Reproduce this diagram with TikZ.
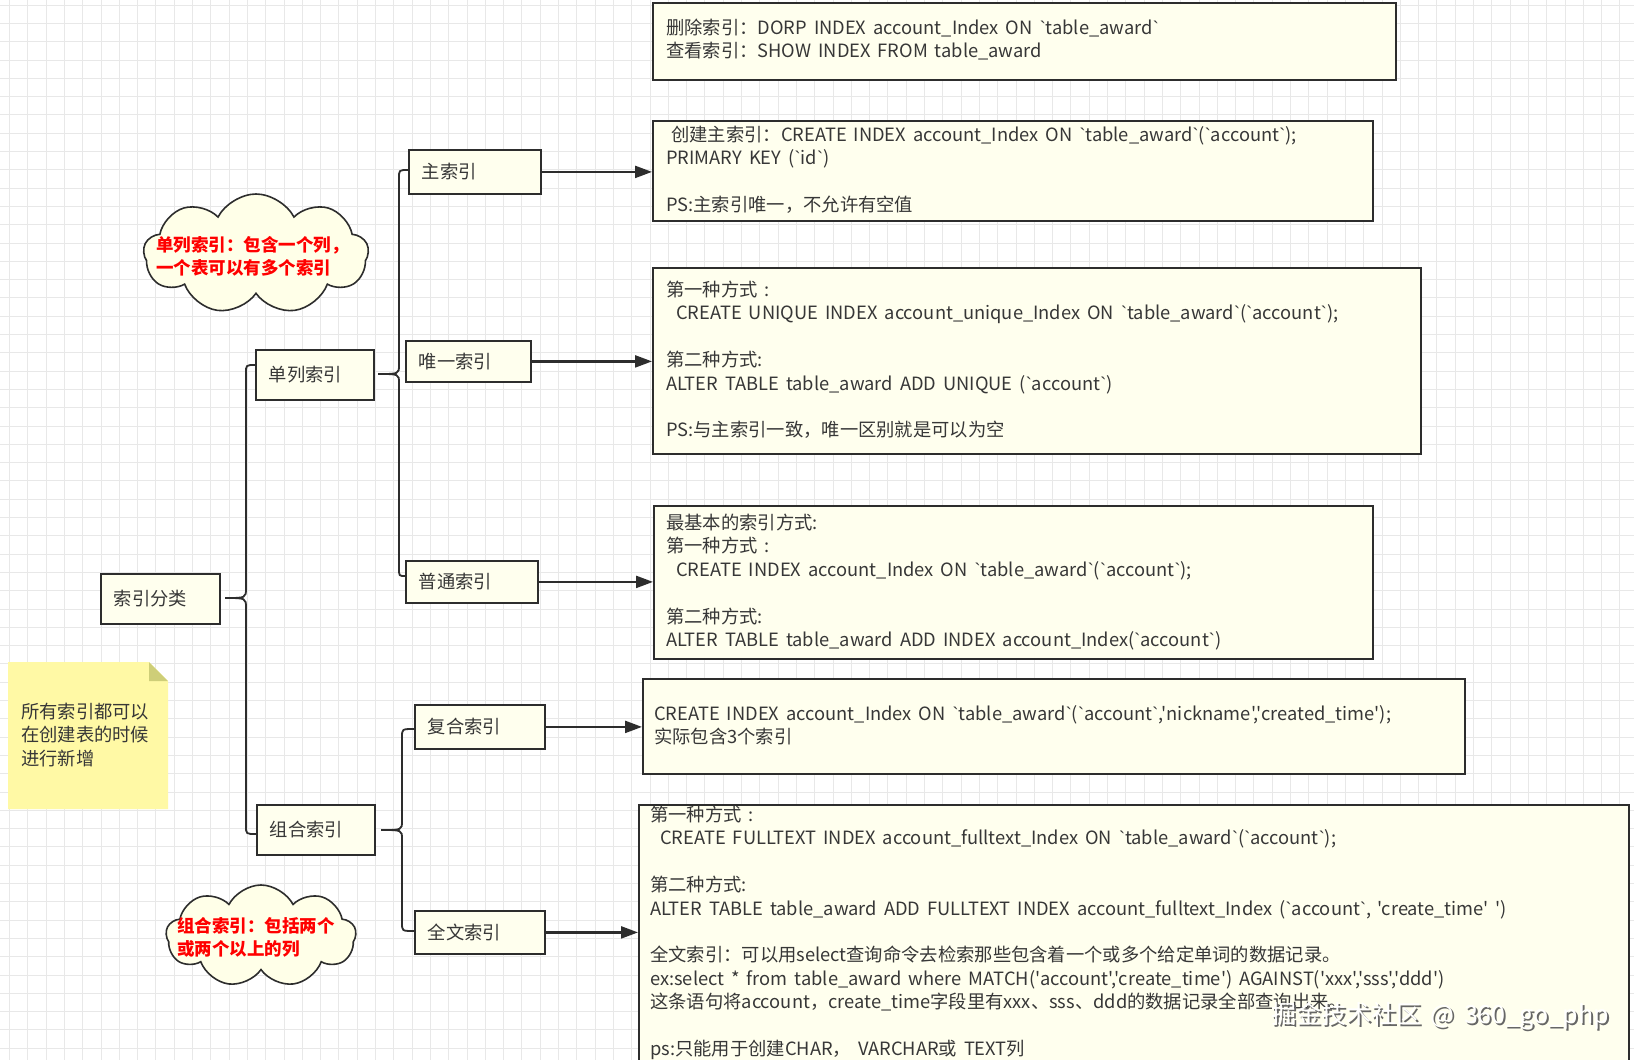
\documentclass[tikz,border=0pt]{standalone}
\usepackage{fontspec}
\newfontfamily\cjk{Noto Sans CJK SC}[WordSpace=1.7]
\newfontfamily\latf{Liberation Sans}
\usetikzlibrary{arrows.meta,shapes.symbols,calc}
\definecolor{boxfill}{RGB}{255,255,238}
\definecolor{bordc}{RGB}{45,45,45}
\definecolor{txtc}{RGB}{55,55,55}
\definecolor{gridc}{RGB}{232,232,232}
\definecolor{stickyc}{RGB}{255,249,165}
\definecolor{foldc}{RGB}{206,206,120}
\definecolor{cloudfill}{RGB}{255,255,232}
\newcommand{\bq}{{\latf\symbol{"60}}}
\newcommand{\sq}{\symbol{"27}}
\begin{document}
\begin{tikzpicture}[x=1pt,y=-1pt,
  base/.style={font=\cjk\fontsize{18.3}{23.4}\selectfont, text=txtc},
  sbox/.style={base, draw=bordc, fill=boxfill, line width=1.8pt, inner xsep=13pt, inner ysep=0pt, text width=#1, align=left, anchor=north west},
  bigbox/.style={draw=bordc, fill=boxfill, line width=1.8pt, inner sep=0pt, anchor=north west},
  txt/.style={base, align=left, inner sep=0pt, anchor=north west},
  brc/.style={draw=bordc, line width=1.8pt},
  arr/.style={draw=bordc, line width=2.3pt, -{Triangle[length=17pt,width=12pt]}},
  cloudbox/.style={cloud, cloud puffs=9, cloud puff arc=125, cloud ignores aspect, draw=bordc, fill=cloudfill, line width=1.6pt, inner sep=0pt},
  redtxt/.style={font=\cjk\bfseries\fontsize{17.5}{23}\selectfont, text=red, align=left, inner sep=0pt, anchor=north west}
]
\useasboundingbox (0,0) rectangle (1634,1060);
\clip (0,0) rectangle (1634,1060);
\fill[white] (0,0) rectangle (1634,1060);
% grid
\foreach \i in {0,...,89} { \draw[gridc, line width=0.8pt] ({9.4+18.3*\i},0) -- ({9.4+18.3*\i},1060); }
\foreach \i in {0,...,58} { \draw[gridc, line width=0.8pt] (0,{5+18.3*\i}) -- (1634,{5+18.3*\i}); }

% big boxes
\node[bigbox, minimum width=743pt, minimum height=77pt] (b0) at (652,2) {};
\node[bigbox, minimum width=720pt, minimum height=100pt] (b1) at (652,120) {};
\node[bigbox, minimum width=768pt, minimum height=186pt] (b2) at (652,267) {};
\node[bigbox, minimum width=719pt, minimum height=153pt] (b3) at (653,505) {};
\node[bigbox, minimum width=822pt, minimum height=95pt] (b4) at (642,678) {};
\node[bigbox, minimum width=990pt, minimum height=280pt] (b5) at (638,804) {};

\node[txt] (t0) at (666,18) {\strut 删除索引：DORP INDEX account\_Index ON \bq table\_award\bq\\
\strut 查看索引：SHOW INDEX FROM table\_award};
\node[txt] (t1) at (666,125) {\strut\hspace*{5pt}创建主索引：CREATE INDEX account\_Index ON \bq table\_award\bq(\bq account\bq);\\
\strut PRIMARY KEY (\bq id\bq)\\
\strut\\
\strut PS:主索引唯一，不允许有空值};
\node[txt] (t2) at (666,280) {\strut 第一种方式 :\\
\strut\hspace*{10pt}CREATE UNIQUE INDEX account\_unique\_Index ON \bq table\_award\bq(\bq account\bq);\\
\strut\\
\strut 第二种方式:\\
\strut ALTER TABLE table\_award ADD UNIQUE (\bq account\bq)\\
\strut\\
\strut PS:与主索引一致，唯一区别就是可以为空};
\node[txt] (t3) at (666,513) {\strut 最基本的索引方式:\\
\strut 第一种方式 :\\
\strut\hspace*{10pt}CREATE INDEX account\_Index ON \bq table\_award\bq(\bq account\bq);\\
\strut\\
\strut 第二种方式:\\
\strut ALTER TABLE table\_award ADD INDEX account\_Index(\bq account\bq)};
\node[txt] (t4) at (654,704) {\strut CREATE INDEX account\_Index ON \bq table\_award\bq(\bq account\bq,\sq nickname\sq,\sq created\_time\sq);\\
\strut 实际包含3个索引};
\node[txt] (t5) at (650,805) {\strut 第一种方式 :\\
\strut\hspace*{10pt}CREATE FULLTEXT INDEX account\_fulltext\_Index ON \bq table\_award\bq(\bq account\bq);\\
\strut\\
\strut 第二种方式:\\
\strut ALTER TABLE table\_award ADD FULLTEXT INDEX account\_fulltext\_Index (\bq account\bq,\hspace*{6pt}\sq create\_time\sq\hspace*{6pt}\sq)\\
\strut\\
\strut 全文索引：可以用select查询命令去检索那些包含着一个或多个给定单词的数据记录。\\
\strut ex:select * from table\_award where MATCH(\sq account\sq,\sq create\_time\sq) AGAINST(\sq xxx\sq,\sq sss\sq,\sq ddd\sq)\\
\strut 这条语句将account，create\_time字段里有xxx、sss、ddd的数据记录全部查询出来。\\
\strut\\
\strut ps:只能用于创建CHAR， VARCHAR或 TEXT列};

% small boxes
\node[sbox=93pt, minimum height=50pt] (idx) at (100,573) {索引分类};
\node[sbox=92pt, minimum height=50pt] (dan) at (255,349) {单列索引};
\node[sbox=92pt, minimum height=50pt] (zuhe) at (256,804) {组合索引};
\node[sbox=106pt, minimum height=44pt] (zhu) at (408,149) {主索引};
\node[sbox=99pt, minimum height=41pt] (wei) at (405,340) {唯一索引};
\node[sbox=106pt, minimum height=42pt] (pt) at (405,560) {普通索引};
\node[sbox=104pt, minimum height=44pt] (fh) at (414,704) {复合索引};
\node[sbox=104pt, minimum height=43pt] (qw) at (414,910) {全文索引};

% braces
\draw[brc] (255,365) .. controls (246,365) .. (246,373) -- (246,588) .. controls (246,598) .. (225,598) .. controls (246,598) .. (246,608) -- (246,826) .. controls (246,834) .. (256,834);
\draw[brc] (408,170) .. controls (399,170) .. (399,178) -- (399,365) .. controls (399,374) .. (378,374) .. controls (399,374) .. (399,383) -- (399,568) .. controls (399,576) .. (405,576);
\draw[brc] (414,729) .. controls (402,729) .. (402,737) -- (402,821) .. controls (402,830) .. (381,830) .. controls (402,830) .. (402,839) -- (402,923) .. controls (402,931) .. (414,931);

% arrows
\draw[arr] (zhu.east) -- (zhu.east -| b1.west);
\draw[arr] (wei.east) -- (wei.east -| b2.west);
\draw[arr] (pt.east) -- (pt.east -| b3.west);
\draw[arr] (fh.east) -- (fh.east -| b4.west);
\draw[arr] (qw.east) -- (qw.east -| b5.west);

% clouds
\node[cloudbox, minimum width=225pt, minimum height=120pt] (cl1) at (256,254) {};
\node[redtxt] (cl1t) at (156,236) {单列索引：包含一个列，\\一个表可以有多个索引};
\node[cloudbox, minimum width=190pt, minimum height=102pt] (cl2) at (261,936) {};
\node[redtxt] (cl2t) at (177,917) {组合索引：包括两个\\或两个以上的列};

% sticky note
\fill[stickyc] (8,662) -- (149,662) -- (168,681) -- (168,809) -- (8,809) -- cycle;
\fill[foldc] (149,662) -- (168,681) -- (149,681) -- cycle;
\node[txt] (note) at (21,702) {\strut 所有索引都可以\\ \strut 在创建表的时候\\ \strut 进行新增};

% watermark
\node[font=\cjk\fontsize{25}{30}\selectfont, text=black!60, inner sep=0pt] (wm1) at (1442,1018) {掘金技术社区 @ 360\_go\_php};
\node[font=\cjk\fontsize{25}{30}\selectfont, text=white, inner sep=0pt] (wm2) at (1440,1016) {掘金技术社区 @ 360\_go\_php};
\end{tikzpicture}
\end{document}
